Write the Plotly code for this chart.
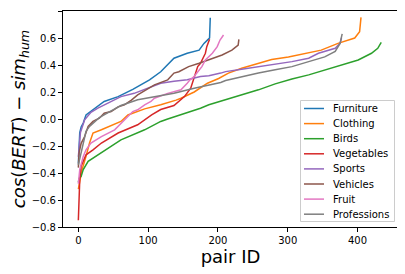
import plotly.graph_objects as go

names = ["Furniture", "Clothing", "Birds", "Vegetables", "Sports", "Vehicles", "Fruit", "Professions"]
colors = ["#1f77b4", "#ff7f0e", "#2ca02c", "#d62728", "#9467bd", "#8c564b", "#e377c2", "#7f7f7f"]

furniture_x = [0, 1, 2, 4, 7, 11, 16, 23, 37, 57, 78, 102, 118, 137, 156, 173, 180, 186, 188, 189]
furniture_y = [-0.33, -0.2, -0.10, -0.06, -0.03, 0.03, 0.05, 0.08, 0.13, 0.166, 0.22, 0.29, 0.35, 0.45, 0.487, 0.51, 0.56, 0.59, 0.6, 0.75]

clothing_x = [0, 2, 5, 11, 16, 21, 33, 61, 71, 95, 118, 140, 147, 166, 185, 201, 215, 234, 258, 277, 301, 325, 348, 372, 396, 403, 405]
clothing_y = [-0.52, -0.47, -0.38, -0.277, -0.178, -0.104, -0.08, -0.018, 0.03, 0.075, 0.105, 0.14, 0.154, 0.20, 0.265, 0.30, 0.34, 0.376, 0.41, 0.44, 0.46, 0.487, 0.51, 0.56, 0.6, 0.647, 0.753]

birds_x = [0, 1, 4, 7, 14, 28, 47, 61, 95, 118, 128, 147, 175, 187, 211, 234, 258, 282, 306, 330, 353, 377, 401, 420, 429, 434]
birds_y = [-0.47, -0.44, -0.425, -0.375, -0.314, -0.265, -0.2, -0.154, -0.08, -0.018, 0.0, 0.03, 0.08, 0.105, 0.142, 0.179, 0.216, 0.26, 0.297, 0.327, 0.364, 0.40, 0.437, 0.487, 0.524, 0.568]

vegetables_x = [0, 1, 2, 4, 11, 21, 33, 57, 85, 105, 118, 137, 152, 161, 166, 171, 175, 182, 184, 188]
vegetables_y = [-0.75, -0.55, -0.45, -0.35, -0.265, -0.228, -0.178, -0.104, -0.043, 0.03, 0.07, 0.10, 0.166, 0.228, 0.314, 0.388, 0.413, 0.487, 0.536, 0.59]

sports_x = [0, 1, 3, 9, 14, 18, 28, 42, 61, 80, 99, 118, 137, 156, 175, 187, 204, 211, 234, 258, 282, 306, 330, 344, 368, 375, 377]
sports_y = [-0.28, -0.2, -0.1, -0.006, 0.03, 0.05, 0.08, 0.117, 0.166, 0.19, 0.228, 0.265, 0.28, 0.29, 0.314, 0.32, 0.34, 0.351, 0.369, 0.388, 0.408, 0.425, 0.45, 0.487, 0.524, 0.56, 0.60]

vehicles_x = [0, 1, 4, 9, 14, 21, 30, 37, 47, 57, 66, 76, 85, 109, 128, 137, 144, 158, 173, 187, 206, 220, 229, 230]
vehicles_y = [-0.36, -0.25, -0.18, -0.13, -0.055, -0.018, 0.006, 0.043, 0.055, 0.09, 0.105, 0.14, 0.179, 0.253, 0.29, 0.34, 0.35, 0.388, 0.413, 0.437, 0.474, 0.51, 0.548, 0.59]

fruit_x = [0, 2, 7, 11, 18, 33, 52, 71, 78, 85, 95, 104, 109, 128, 147, 156, 160, 165, 170, 177, 182, 192, 199, 203, 208]
fruit_y = [-0.48, -0.375, -0.277, -0.228, -0.178, -0.13, -0.08, 0.018, 0.055, 0.068, 0.105, 0.13, 0.154, 0.19, 0.216, 0.265, 0.29, 0.31, 0.34, 0.388, 0.437, 0.487, 0.536, 0.585, 0.622]

professions_x = [0, 2, 7, 11, 16, 23, 30, 40, 61, 85, 109, 137, 166, 187, 204, 211, 234, 258, 282, 306, 330, 353, 368, 375, 378]
professions_y = [-0.34, -0.29, -0.178, -0.092, -0.055, -0.02, 0.01, 0.04, 0.1, 0.142, 0.166, 0.19, 0.228, 0.253, 0.27, 0.285, 0.314, 0.34, 0.364, 0.388, 0.425, 0.46, 0.5, 0.56, 0.63]

xs = [furniture_x, clothing_x, birds_x, vegetables_x, sports_x, vehicles_x, fruit_x, professions_x]
ys = [furniture_y, clothing_y, birds_y, vegetables_y, sports_y, vehicles_y, fruit_y, professions_y]

x_ticks = [0, 100, 200, 300, 400]
y_ticks = [-0.8, -0.6, -0.4, -0.2, 0.0, 0.2, 0.4, 0.6, 0.8]

# the page body has an 8px margin, so the figure is offset by 8px
OFF = 8
W, H = 405 - OFF, 274 - OFF
# plot area in reference-window pixels
PL, PR, PT, PB = 63, 398, 11, 227
ML, MT = PL - OFF, PT - OFF
MR, MB = W - (PR - OFF), H - (PB - OFF)
PW, PH = PR - PL, PB - PT


def px_x(p):
    return (p - PL) / PW


def px_y(p):
    return (PB - p) / PH


fig = go.Figure()
for n, c, x, y in zip(names, colors, xs, ys):
    fig.add_trace(go.Scatter(x=x, y=y, mode="lines", name=n, showlegend=False,
                             line=dict(color=c, width=1.5)))

font = "DejaVu Sans, sans-serif"

# legend box in matplotlib style (drawn in paper coordinates)
box_l, box_r, box_t, box_b = 300.5, 394.5, 100.5, 221.5
shapes = [dict(type="rect", xref="paper", yref="paper",
               x0=px_x(box_l), x1=px_x(box_r), y0=px_y(box_b), y1=px_y(box_t),
               fillcolor="rgba(255,255,255,0.8)", line=dict(color="#cccccc", width=1),
               layer="above")]
annotations = []
row0, step = 108.5, 15.1
for i, (n, c) in enumerate(zip(names, colors)):
    yy = row0 + i * step
    shapes.append(dict(type="line", xref="paper", yref="paper",
                       x0=px_x(304), x1=px_x(324), y0=px_y(yy), y1=px_y(yy),
                       line=dict(color=c, width=1.5), layer="above"))
    annotations.append(dict(xref="paper", yref="paper", x=px_x(331), y=px_y(yy),
                            text=n, showarrow=False, xanchor="left", yanchor="middle",
                            font=dict(size=10, color="black", family=font)))

fig.update_layout(
    width=W, height=H,
    margin=dict(l=ML, r=MR, t=MT, b=MB),
    paper_bgcolor="white", plot_bgcolor="white",
    font=dict(family=font, size=10, color="black"),
    showlegend=False,
    shapes=shapes, annotations=annotations,
)
fig.update_xaxes(range=[-22, 458], tickvals=x_ticks, ticktext=[str(v) for v in x_ticks],
                 showgrid=False, zeroline=False, showline=True, mirror=True,
                 linecolor="black", linewidth=1, ticks="outside", ticklen=4,
                 tickcolor="black", tickfont=dict(size=10), automargin=False,
                 title=dict(text="pair ID", font=dict(size=18), standoff=4))
fig.update_yaxes(range=[-0.8, 0.8], tickvals=y_ticks, tickformat=".1f",
                 showgrid=False, zeroline=False, showline=True, mirror=True,
                 linecolor="black", linewidth=1, ticks="outside", ticklen=4,
                 tickcolor="black", tickfont=dict(size=10), automargin=False,
                 title=dict(text="<i>cos</i>(<i>BERT</i>) − <i>sim</i><sub><i>hum</i></sub>",
                            font=dict(size=18), standoff=0))
fig.write_html("out.html")
